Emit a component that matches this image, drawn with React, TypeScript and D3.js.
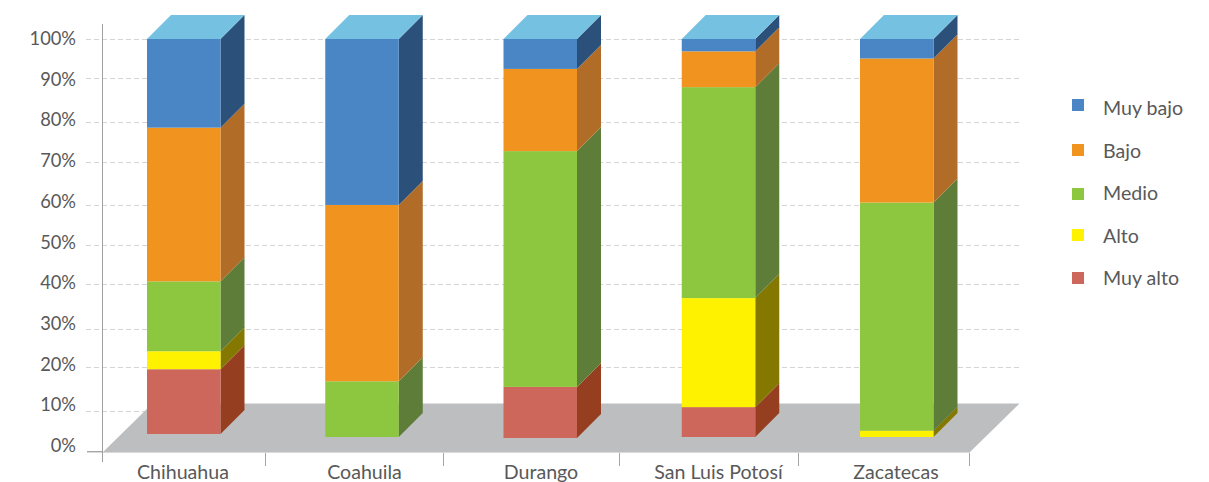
import React from "react";
import * as d3 from "d3";

// Share of each risk level per state, stacked from the bottom up.
const states = ["Chihuahua", "Coahuila", "Durango", "San Luis Potosí", "Zacatecas"];
const levels = ["Muy alto", "Alto", "Medio", "Bajo", "Muy bajo"];
const muyAlto = [16.4, 0, 12.8, 7.5, 0];
const alto = [4.55, 0, 0, 27.4, 1.6];
const medio = [17.7, 14, 59.1, 53, 57.3];
const bajo = [38.9, 44.3, 20.6, 9, 36.2];
const muyBajo = [22.45, 41.7, 7.5, 3.1, 4.9];
const seriesValues = [muyAlto, alto, medio, bajo, muyBajo];

const axisLabels = ["0%", "10%", "20%", "30%", "40%", "50%", "60%", "70%", "80%", "90%", "100%"];
const gridLevels = [0.096, 0.204, 0.296, 0.405, 0.5, 0.596, 0.701, 0.799, 0.905, 1];
const legendOrder = ["Muy bajo", "Bajo", "Medio", "Alto", "Muy alto"];

const frontColors = ["#cd675c", "#fff200", "#8dc63f", "#f0931f", "#4a86c5"];
const sideColors = ["#963f20", "#857800", "#5e7d38", "#b16c28", "#2b5079"];
const topColor = "#75c1e2";
const textColor = "#595959";
const fontFamily = "Lato, 'Open Sans', sans-serif";

const W = 1209;
const H = 482;
const barWidth = 73.5;
const depth = 24;
const barTop = 39;
const barBases = [434, 437, 438, 437, 437];
const floorFront = 452;
const floorBack = 404;
const tickXs = [102.5, 265.5, 443.5, 619.5, 798.5, 969.5];
const categoryLabelXs = [183, 364.5, 541, 718.5, 896];
const swatchTops = [99, 144, 188, 229, 272];

const barX = d3.scalePoint<string>().domain(states).range([183.75, 896.75]);
const gridY = d3.scaleLinear().domain([0, 1]).range([451.5, 39.5]);
const labelY = d3.scalePoint<string>().domain(axisLabels).range([452, 45]);
const legendY = d3.scalePoint<string>().domain(legendOrder).range([115, 285]);
const poly = d3.line();

export default function App() {
  return (
    <svg
      width={W}
      height={H}
      viewBox={`0 0 ${W} ${H}`}
      style={{ position: "absolute", left: 0, top: 0, display: "block", background: "#fff" }}
      fontFamily={fontFamily}
    >
      {gridLevels.map((g) => {
        const y = Math.round(gridY(g) - 0.5) + 0.5;
        return (
          <line
            key={g}
            x1={86}
            x2={y > floorBack ? 1000 : 1020}
            y1={y}
            y2={y}
            stroke="#d4d4d4"
            strokeWidth={1}
            strokeDasharray="5 3"
          />
        );
      })}

      <path
        d={
          poly([
            [103, floorFront],
            [970, floorFront],
            [1019, floorBack],
            [152, floorBack],
          ]) + "Z"
        }
        fill="#bcbec0"
      />
      <line x1={152} x2={1019} y1={403.5} y2={403.5} stroke="#dedfe0" />
      <line x1={87} x2={970} y1={452.5} y2={452.5} stroke="#d9d9d9" />
      <line x1={87} x2={103} y1={451.5} y2={451.5} stroke="#a6a6a6" />

      <line x1={102.5} x2={102.5} y1={24} y2={462} stroke="#a0a0a0" />
      {tickXs.slice(1).map((x) => (
        <line key={x} x1={x} x2={x} y1={453} y2={466} stroke="#a6a6a6" />
      ))}

      {states.map((state, i) => {
        const left = barX(state)! - barWidth / 2;
        const right = left + barWidth;
        const y = d3.scaleLinear().domain([0, 100]).range([barBases[i], barTop]);
        let acc = 0;
        return (
          <g key={state}>
            {seriesValues.map((values, s) => {
              const v = values[i];
              const y0 = y(acc);
              acc += v;
              const y1 = y(acc);
              if (v === 0) return null;
              return (
                <g key={levels[s]}>
                  <path
                    d={
                      poly([
                        [right, y0],
                        [right + depth, y0 - depth],
                        [right + depth, y1 - depth],
                        [right, y1],
                      ]) + "Z"
                    }
                    fill={sideColors[s]}
                  />
                  <rect x={left} y={y1} width={barWidth} height={y0 - y1} fill={frontColors[s]} />
                </g>
              );
            })}
            <path
              d={
                poly([
                  [left, barTop],
                  [left + depth, barTop - depth],
                  [right + depth, barTop - depth],
                  [right, barTop],
                ]) + "Z"
              }
              fill={topColor}
            />
            <text x={categoryLabelXs[i]} y={479} textAnchor="middle" fontSize={19.6} fill={textColor}>
              {state}
            </text>
          </g>
        );
      })}

      {axisLabels.map((t) => (
        <text key={t} x={76} y={labelY(t)} textAnchor="end" fontSize={18.3} fill={textColor}>
          {t}
        </text>
      ))}

      {legendOrder.map((name, i) => (
        <g key={name}>
          <rect
            x={1072}
            y={swatchTops[i]}
            width={12}
            height={12}
            fill={frontColors[levels.length - 1 - i]}
          />
          <text x={1103} y={legendY(name)} fontSize={19.6} fill={textColor}>
            {name}
          </text>
        </g>
      ))}
    </svg>
  );
}
